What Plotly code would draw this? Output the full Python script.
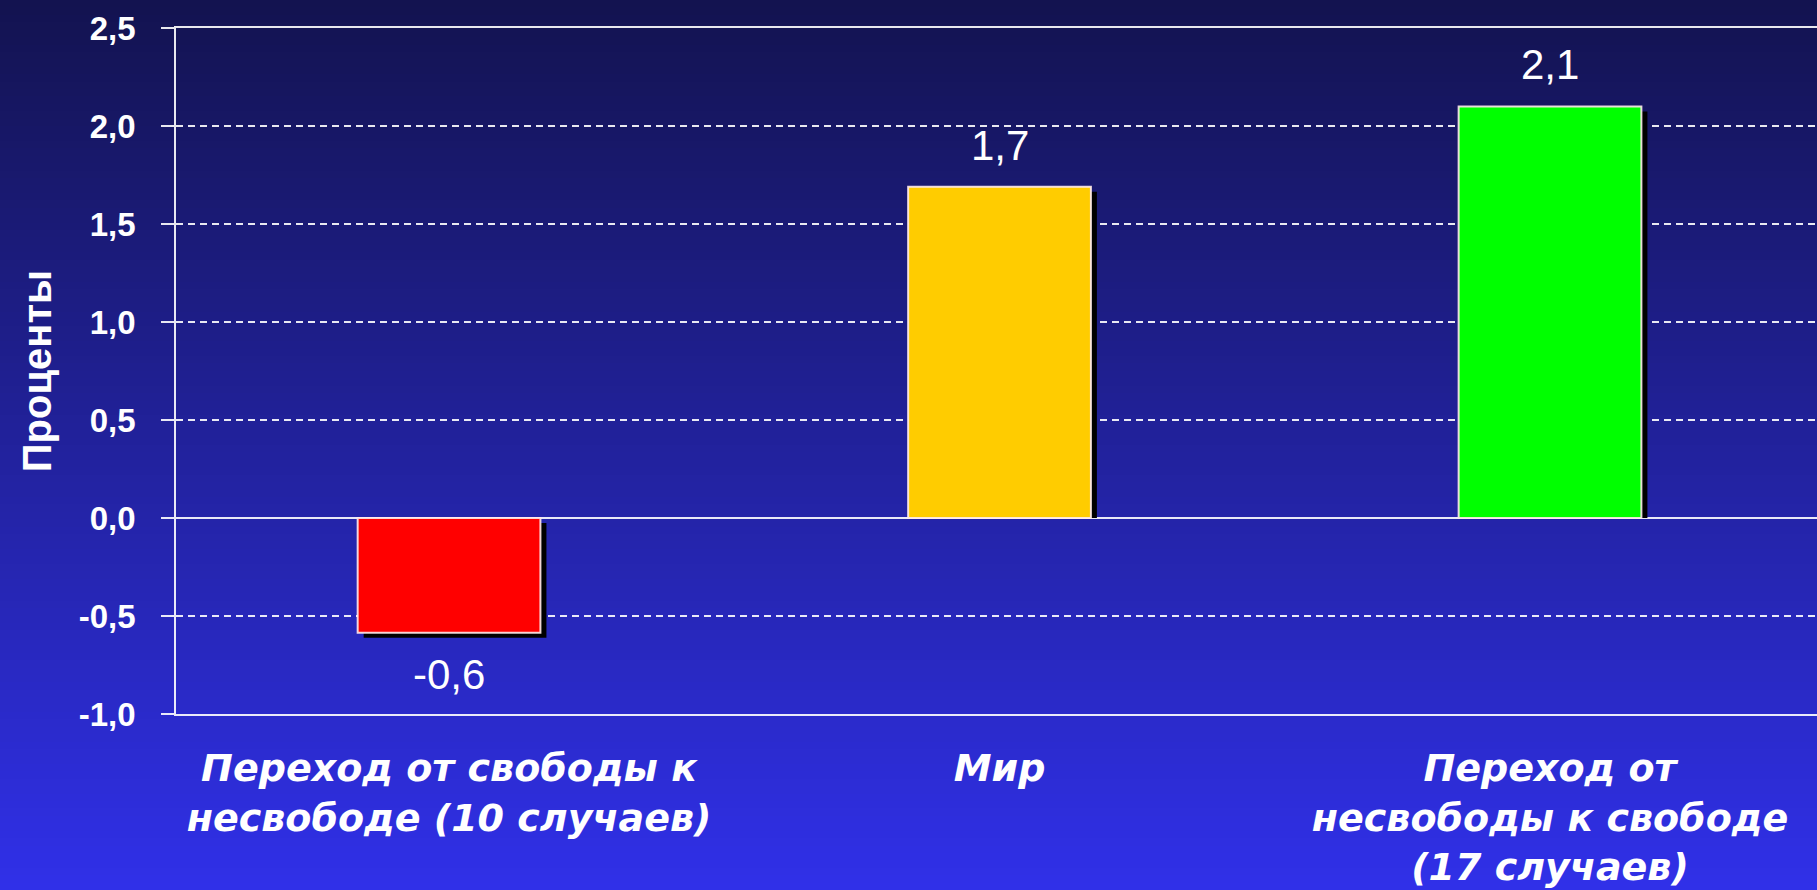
import plotly.graph_objects as go

# data
categories = [
    "Переход от свободы к<br>несвободе (10 случаев)",
    "Мир",
    "Переход от<br>несвободы к свободе<br>(17 случаев)",
]
values = [-0.585, 1.69, 2.1]
bar_colors = ["#ff0000", "#ffcc00", "#00ff00"]
tick_vals = [-1.0, -0.5, 0.0, 0.5, 1.0, 1.5, 2.0, 2.5]
tick_labels = ["-1,0", "-0,5", "0,0", "0,5", "1,0", "1,5", "2,0", "2,5"]

W, H = 1817, 890
bar_w = 0.332
px_unit = 195.8  # pixels per 1 % on the y axis, used for shadow shift
shadow_dy = 5 / px_unit
shadow_dx = 6 / 550.0


def mix(c1, c2, t):
    return "rgb(%d,%d,%d)" % tuple(round(a + (b - a) * t) for a, b in zip(c1, c2))


# vertical gradient for the page background (style only)
n = 120
bottom_rgb, top_rgb = (48, 48, 232), (19, 19, 80)
grad_scale = [[i / (n - 1), mix(bottom_rgb, top_rgb, i / (n - 1))] for i in range(n)]

fig = go.Figure()

fig.add_trace(go.Heatmap(
    z=[[i, i] for i in range(n)],
    x=[0.25, 0.75],
    y=[(i + 0.5) / n for i in range(n)],
    colorscale=grad_scale, showscale=False, hoverinfo="skip",
    xaxis="x", yaxis="y",
))

# drop shadows: shifted right and down, clipped at the zero line for positive bars
shadow_base = [0 if v >= 0 else -shadow_dy for v in values]
shadow_len = [v - shadow_dy if v >= 0 else v for v in values]
fig.add_trace(go.Bar(
    x=categories, y=shadow_len, base=shadow_base,
    width=bar_w, offset=-bar_w / 2 + shadow_dx,
    marker=dict(color="black", line=dict(width=0)),
    xaxis="x2", yaxis="y2", hoverinfo="skip", showlegend=False,
))

# bars
fig.add_trace(go.Bar(
    x=categories, y=values, width=bar_w,
    marker=dict(color=bar_colors, line=dict(color="rgba(255,235,235,0.9)", width=2)),
    xaxis="x2", yaxis="y2", showlegend=False,
))

# value labels
for c, v in zip(categories, values):
    fig.add_annotation(
        x=c, y=v, xref="x2", yref="y2",
        text=f"{v:.1f}".replace(".", ","),
        showarrow=False,
        yanchor="bottom" if v >= 0 else "top",
        yshift=16 if v >= 0 else -16,
        font=dict(family="Liberation Sans, Arial", size=42, color="white"),
    )

white = "rgba(255,255,255,0.9)"
fig.update_layout(
    width=W, height=H,
    margin=dict(l=0, r=0, t=0, b=0, pad=0, autoexpand=False),
    barmode="overlay",
    paper_bgcolor="#1e1e98",
    plot_bgcolor="rgba(0,0,0,0)",
    xaxis=dict(domain=[0, 1], range=[0, 1], visible=False, fixedrange=True, automargin=False),
    yaxis=dict(domain=[0, 1], range=[0, 1], visible=False, fixedrange=True, automargin=False),
    xaxis2=dict(
        domain=[176 / W, 1], anchor="y2", range=[-0.496, 2.485], automargin=False,
        showline=True, mirror=True, linecolor=white, linewidth=1.5,
        showgrid=False, ticks="", ticklabelstandoff=20,
        tickfont=dict(family="DejaVu Sans", size=38, color="white",
                      weight="bold", style="italic"),
    ),
    yaxis2=dict(
        domain=[1 - 714 / H, 1 - 28 / H], anchor="x2", range=[-1, 2.5], automargin=False,
        tickvals=tick_vals, ticktext=tick_labels,
        showgrid=True, gridcolor=white, gridwidth=1.5, griddash="7px,5px",
        zeroline=True, zerolinecolor=white, zerolinewidth=1.5,
        showline=True, linecolor=white, linewidth=1.5,
        ticks="outside", ticklen=13, tickwidth=1.5, tickcolor=white,
        ticklabelstandoff=19,
        tickfont=dict(family="Liberation Sans, Arial", size=33, color="white", weight="bold"),
        title=dict(text="Проценты",
                   font=dict(family="Liberation Sans, Arial", size=40, color="white", weight="bold")),
    ),
)

fig.write_html(
    "out.html",
    config={"displayModeBar": False},
    post_script="document.body.style.margin='0';document.body.style.overflow='hidden';",
)
